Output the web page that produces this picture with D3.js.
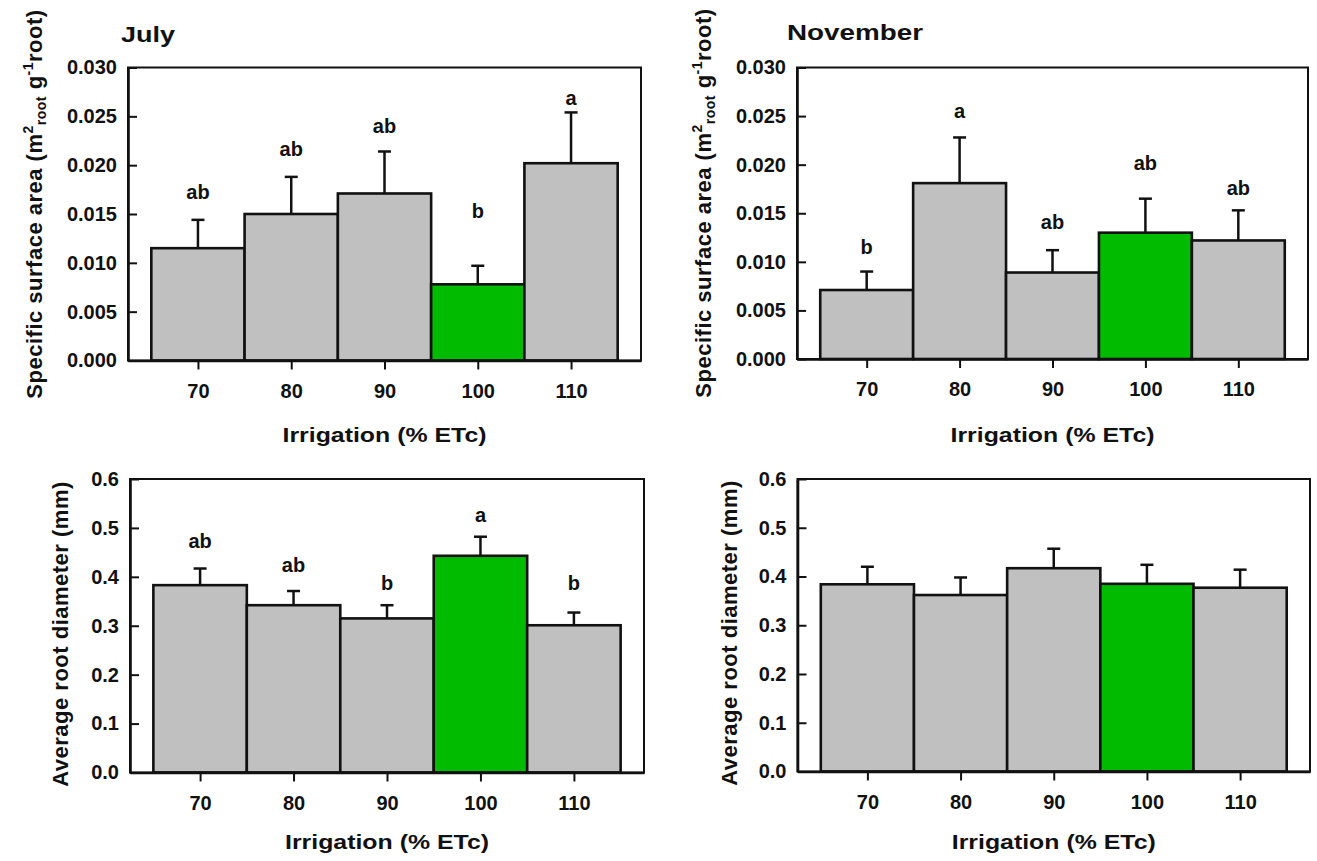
<!DOCTYPE html>
<html>
<head>
<meta charset="utf-8">
<script src="https://cdn.jsdelivr.net/npm/d3@7/dist/d3.min.js"></script>
<style>
  html, body { margin: 0; padding: 0; background: #fff; }
  svg { display: block; }
  text { font-family: "Liberation Sans", Arial, sans-serif; font-weight: bold; fill: #111; }
</style>
</head>
<body>
<svg id="chart" width="1317" height="861"></svg>
<script>
// ---------- data ----------
const categories = [70, 80, 90, 100, 110];
const greenCategory = 100;

const julySSA        = [0.0115, 0.0150, 0.0171, 0.0078, 0.0202];
const julySSAErr     = [0.0029, 0.0038, 0.0043, 0.0019, 0.0052];
const julySSALetters = ["ab", "ab", "ab", "b", "a"];
const julySSALetterY = [0.0165, 0.0209, 0.0233, 0.0146, 0.0262];

const novSSA         = [0.0071, 0.0181, 0.0089, 0.0130, 0.0122];
const novSSAErr      = [0.0019, 0.0047, 0.0023, 0.0035, 0.0031];
const novSSALetters  = ["b", "a", "ab", "ab", "ab"];
const novSSALetterY  = [0.0108, 0.0248, 0.0134, 0.0195, 0.0169];

const julyDiam        = [0.383, 0.342, 0.315, 0.443, 0.301];
const julyDiamErr     = [0.034, 0.029, 0.027, 0.039, 0.026];
const julyDiamLetters = ["ab", "ab", "b", "a", "b"];
const julyDiamLetterY = [0.458, 0.409, 0.373, 0.512, 0.373];

const novDiam    = [0.384, 0.362, 0.417, 0.385, 0.377];
const novDiamErr = [0.036, 0.036, 0.040, 0.039, 0.037];

const ssaTicks  = [0, 0.005, 0.010, 0.015, 0.020, 0.025, 0.030];
const diamTicks = [0, 0.1, 0.2, 0.3, 0.4, 0.5, 0.6];
const xTitle = "Irrigation (% ETc)";

// ---------- drawing ----------
const svg = d3.select("#chart");
const GRAY = "#c0c0c0", GREEN = "#00bb00";

function drawPanel(p) {
  const x = d3.scaleLinear().domain([62.5, 117.5]).range([p.left, p.right]);
  const y = d3.scaleLinear().domain(p.yDomain).range([p.bottom, p.top]);
  const g = svg.append("g");

  // error bars
  const eb = g.append("g");
  categories.forEach((c, i) => {
    const top = y(p.values[i] + p.errors[i]);
    eb.append("line").attr("x1", x(c)).attr("x2", x(c))
      .attr("y1", y(p.values[i])).attr("y2", top)
      .attr("stroke", "#111").attr("stroke-width", 2.5);
    eb.append("line").attr("x1", x(c) - 6.5).attr("x2", x(c) + 6.5)
      .attr("y1", top).attr("y2", top)
      .attr("stroke", "#111").attr("stroke-width", 2.5);
  });

  // bars
  g.append("g").selectAll("rect").data(categories).join("rect")
    .attr("x", c => x(c - 5))
    .attr("width", c => x(c + 5) - x(c - 5))
    .attr("y", (c, i) => y(p.values[i]))
    .attr("height", (c, i) => y(0) - y(p.values[i]))
    .attr("fill", c => c === greenCategory ? GREEN : GRAY)
    .attr("stroke", "#111").attr("stroke-width", 2.6);

  // frame
  g.append("rect").attr("x", p.left).attr("y", p.top)
    .attr("width", p.right - p.left).attr("height", p.bottom - p.top)
    .attr("fill", "none").attr("stroke", "#111").attr("stroke-width", 2);

  // y axis (inward ticks)
  const ya = g.append("g").attr("transform", `translate(${p.left},0)`)
    .call(d3.axisLeft(y).tickValues(p.ticks).tickFormat(d3.format(p.fmt))
      .tickSizeInner(-9).tickSizeOuter(0).tickPadding(11));
  ya.select(".domain").attr("stroke", "#111").attr("stroke-width", 2.6);
  ya.selectAll(".tick line").attr("stroke", "#111").attr("stroke-width", 2);
  ya.selectAll(".tick text").attr("font-size", 20).attr("fill", "#111")
    .attr("font-family", null);

  // x axis (outward ticks)
  const xa = g.append("g").attr("transform", `translate(0,${p.bottom})`)
    .call(d3.axisBottom(x).tickValues(categories).tickFormat(d3.format("d"))
      .tickSizeInner(9).tickSizeOuter(0));
  xa.select(".domain").attr("stroke", "#111").attr("stroke-width", 2.6);
  xa.selectAll(".tick line").attr("stroke", "#111").attr("stroke-width", 2);
  xa.selectAll(".tick text").attr("font-size", 20).attr("fill", "#111")
    .attr("font-family", null).attr("y", 37).attr("dy", 0);

  // significance letters
  if (p.letters) {
    g.append("g").selectAll("text").data(categories).join("text")
      .attr("x", c => x(c))
      .attr("y", (c, i) => y(p.letterY[i]))
      .attr("text-anchor", "middle").attr("font-size", 20)
      .text((c, i) => p.letters[i]);
  }

  // x title
  svg.append("text").attr("x", (p.left + p.right) / 2).attr("y", p.xTitleY)
    .attr("text-anchor", "middle").attr("font-size", 21)
    .attr("textLength", 204).attr("lengthAdjust", "spacingAndGlyphs")
    .text(xTitle);

  // y title
  const yt = svg.append("text")
    .attr("transform", `translate(${p.yTitleX},${p.yTitleY}) rotate(-90)`)
    .attr("text-anchor", "middle").attr("font-size", 22)
    .attr("letter-spacing", 0.5);
  p.yTitle(yt);

  // panel title
  if (p.title) {
    svg.append("text").attr("x", p.title.x).attr("y", p.title.y)
      .attr("font-size", 22).attr("textLength", p.title.len)
      .attr("lengthAdjust", "spacingAndGlyphs").text(p.title.text);
  }
}

function ssaTitle(t) {
  t.append("tspan").text("Specific surface area (m");
  t.append("tspan").attr("font-size", 14).attr("dy", -9).text("2");
  t.append("tspan").attr("font-size", 14).attr("dy", 13).text("root");
  t.append("tspan").attr("dy", -4).text(" g");
  t.append("tspan").attr("font-size", 14).attr("dy", -9).text("-1");
  t.append("tspan").attr("dy", 9).text("root)");
}
function diamTitle(t) {
  t.text("Average root diameter (mm)");
}

drawPanel({
  left: 128, right: 641, top: 67.5, bottom: 360.5,
  yDomain: [0, 0.03], ticks: ssaTicks, fmt: ".3f",
  values: julySSA, errors: julySSAErr, letters: julySSALetters, letterY: julySSALetterY,
  xTitleY: 442, yTitleX: 42, yTitleY: 204, yTitle: ssaTitle,
  title: { text: "July", x: 121, y: 42, len: 54 }
});
drawPanel({
  left: 797, right: 1308, top: 67.5, bottom: 359,
  yDomain: [0, 0.03], ticks: ssaTicks, fmt: ".3f",
  values: novSSA, errors: novSSAErr, letters: novSSALetters, letterY: novSSALetterY,
  xTitleY: 442, yTitleX: 711, yTitleY: 203, yTitle: ssaTitle,
  title: { text: "November", x: 787, y: 39.5, len: 136 }
});
drawPanel({
  left: 130, right: 644, top: 479, bottom: 772.5,
  yDomain: [0, 0.6], ticks: diamTicks, fmt: ".1f",
  values: julyDiam, errors: julyDiamErr, letters: julyDiamLetters, letterY: julyDiamLetterY,
  xTitleY: 849, yTitleX: 68, yTitleY: 634, yTitle: diamTitle
});
drawPanel({
  left: 797.5, right: 1310, top: 479, bottom: 771.5,
  yDomain: [0, 0.6], ticks: diamTicks, fmt: ".1f",
  values: novDiam, errors: novDiamErr,
  xTitleY: 849, yTitleX: 737, yTitleY: 633, yTitle: diamTitle
});
</script>
</body>
</html>
